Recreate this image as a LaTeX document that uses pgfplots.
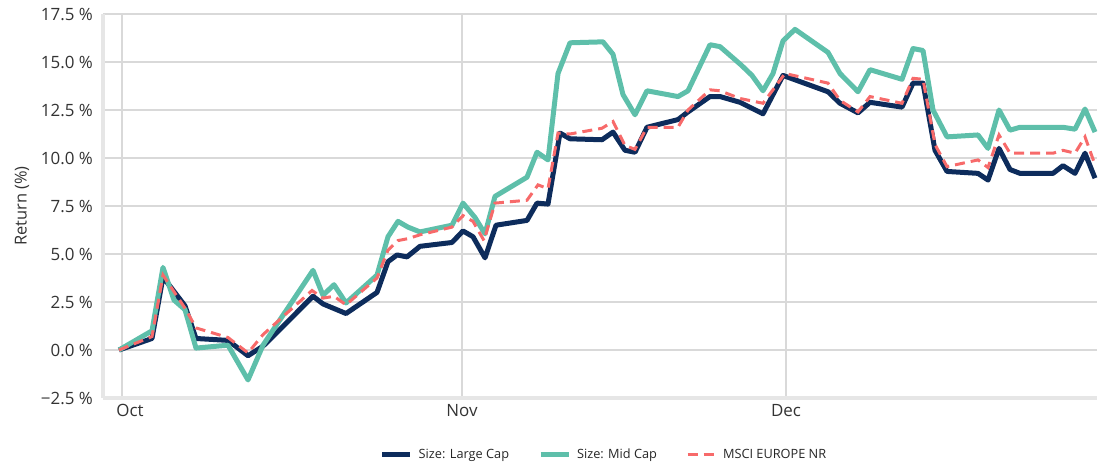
\documentclass[border=0pt]{standalone}
\usepackage{fontspec}
\setmainfont{Open Sans}
\usepackage{pgfplots}
\pgfplotsset{compat=1.18}
\definecolor{navyc}{HTML}{0D2C5C}
\definecolor{tealc}{HTML}{5EBFAA}
\definecolor{redc}{HTML}{F76A6A}
\definecolor{gridc}{HTML}{D9D9D9}
\definecolor{axc}{HTML}{E6E6E6}
\begin{document}
\begin{tikzpicture}
\path[use as bounding box] (0,0) rectangle (1099bp,467bp);
\begin{axis}[
  at={(103bp,69bp)}, anchor=south west, scale only axis,
  width=994bp, height=384bp,
  xmin=103, xmax=1097, ymin=-2.5, ymax=17.5,
  xtick={122,462,786}, xticklabels={\hspace*{16bp}Oct,Nov,Dec},
  ytick={-2.5,0,2.5,5,7.5,10,12.5,15,17.5},
  yticklabels={−2.5 \%,0.0 \%,2.5 \%,5.0 \%,7.5 \%,10.0 \%,12.5 \%,15.0 \%,17.5 \%},
  grid=major,
  major grid style={draw=gridc, line width=1.6bp},
  axis x line*=bottom, axis y line*=left,
  axis line style={draw=axc, line width=3bp, -},
  major tick length=0pt,
  tick style={draw=none},
  ticklabel style={font=\fontsize{17}{20}\selectfont, text=black!80},
  yticklabel style={inner sep=0pt, anchor=east, xshift=-10bp},
  xticklabel style={inner sep=0pt, anchor=north, yshift=-6bp},
  ylabel={Return (\%)},
  ylabel style={at={(axis description cs:-0.0815,0.5)}, anchor=center, font=\fontsize{16.5}{19}\selectfont, text=black!80},
  legend columns=3,
  legend style={at={(axis description cs:0.504,-0.148)}, anchor=center, draw=none, fill=none,
    font=\fontsize{12.8}{15}\selectfont, text=black!85,
    /tikz/every odd column/.append style={column sep=4bp},
    /tikz/every even column/.append style={column sep=27bp}},
  legend image code/.code={\draw[#1] (0bp,0bp) -- (28bp,0bp);},
  clip=false,
]
\addplot[navyc, line width=5bp, line join=round] coordinates {
(119,0.0) (152,0.6) (163,3.8) (185,2.3) (196,0.6) (228,0.5) (248,-0.3) (263,0.2) (268,0.45)
(313,2.8) (323,2.4) (346,1.9) (377,3.0) (388,4.6) (397,4.95) (407,4.85) (420,5.4)
(452,5.6) (463,6.2) (473,5.9) (485,4.8) (496,6.5) (527,6.75) (537,7.65) (548,7.6)
(560,11.3) (570,11.0) (602,10.95) (613,11.35) (625,10.4) (635,10.3) (647,11.6)
(678,12.0) (688,12.4) (710,13.2) (720,13.2) (740,12.9) (763,12.3) (783,14.3)
(828,13.45) (840,12.85) (858,12.35) (870,12.9) (902,12.65) (913,13.9) (923,13.9)
(935,10.4) (947,9.3) (978,9.2) (988,8.85) (999,10.5) (1010,9.4) (1020,9.2)
(1053,9.2) (1063,9.6) (1075,9.2) (1085,10.25) (1095,8.95)
};
\addlegendentry{Size: Large Cap}
\addplot[tealc, line width=5bp, line join=round] coordinates {
(119,0.0) (152,1.0) (163,4.3) (174,2.6) (185,2.1) (196,0.1) (228,0.25) (248,-1.56) (263,0.25)
(313,4.15) (323,2.85) (334,3.4) (346,2.45) (377,3.9) (388,5.9) (398,6.7) (408,6.4) (420,6.15)
(452,6.5) (463,7.65) (475,6.9) (485,6.05) (495,8.0) (527,9.0) (537,10.3) (548,9.9)
(558,14.4) (570,16.0) (603,16.05) (613,15.4) (623,13.3) (635,12.25) (647,13.5)
(678,13.2) (688,13.5) (710,15.9) (720,15.8) (741,14.85) (752,14.3) (763,13.5) (773,14.4)
(783,16.1) (795,16.7) (828,15.5) (840,14.4) (858,13.45) (870,14.6) (902,14.1)
(913,15.7) (923,15.6) (933,12.5) (947,11.1) (978,11.2) (988,10.5) (999,12.5)
(1010,11.45) (1020,11.6) (1063,11.6) (1075,11.5) (1085,12.55) (1095,11.35)
};
\addlegendentry{Size: Mid Cap}
\addplot[redc, line width=3bp, dash pattern=on 10bp off 6bp] coordinates {
(119,0.0) (152,0.7) (163,3.9) (186,2.1) (196,1.15) (228,0.65) (248,-0.15) (263,0.8)
(312,3.1) (323,2.7) (334,2.8) (346,2.35) (377,3.75) (388,5.2) (398,5.7) (408,5.8) (420,6.0)
(452,6.4) (463,7.0) (473,6.7) (484,5.7) (495,7.65) (527,7.8) (538,8.6) (548,8.4)
(558,11.3) (570,11.25) (602,11.55) (613,11.9) (625,10.65) (635,10.45) (647,11.6)
(678,11.6) (688,12.5) (710,13.55) (720,13.5) (740,13.1) (763,12.85) (785,14.4)
(828,13.9) (840,13.0) (858,12.4) (870,13.2) (902,12.85) (913,14.15) (923,14.1)
(935,10.7) (947,9.55) (978,9.9) (988,9.5) (999,11.2) (1010,10.25) (1053,10.25)
(1063,10.4) (1075,10.25) (1085,11.1) (1095,9.65)
};
\addlegendentry{MSCI EUROPE NR}
\end{axis}
\end{tikzpicture}
\end{document}
